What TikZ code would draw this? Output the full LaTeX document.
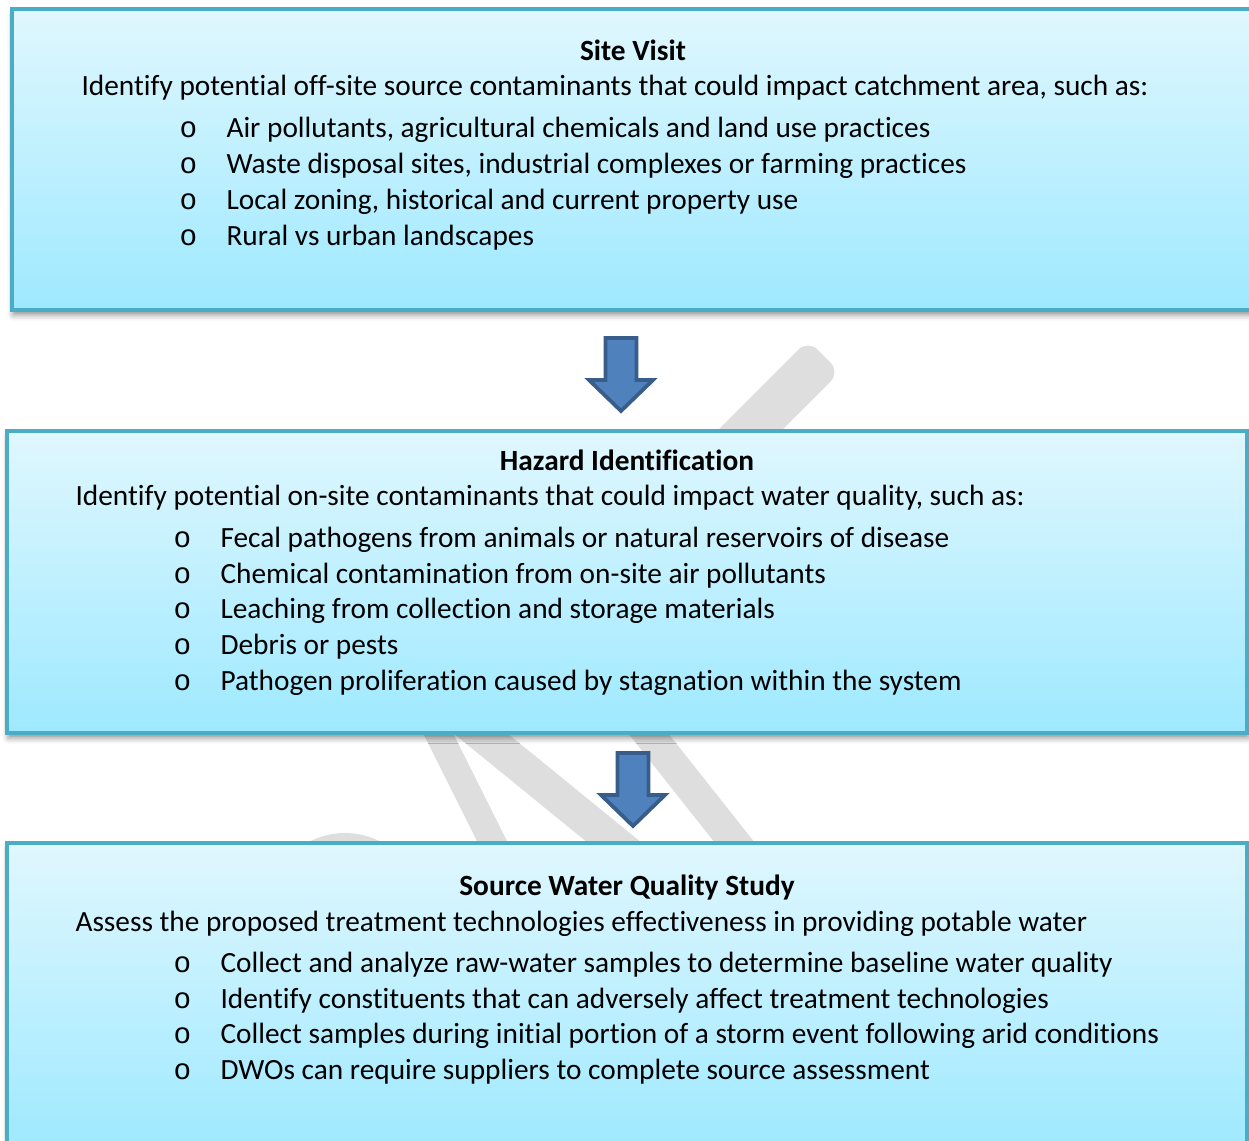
\documentclass[tikz,border=0pt]{standalone}
\usepackage{fontspec}
\setmainfont[Ligatures={TeX,NoCommon}]{Carlito}
\newfontfamily\bulletfont{Liberation Mono}
\usetikzlibrary{shadows.blur}

\definecolor{swqBoxLine}{RGB}{75,172,198}
\definecolor{swqBoxTop}{RGB}{224,247,254}
\definecolor{swqBoxBottom}{RGB}{158,233,255}
\definecolor{swqArrowFill}{RGB}{79,129,189}
\definecolor{swqArrowLine}{RGB}{56,93,138}
\definecolor{swqMark}{RGB}{222,222,222}

\tikzset{
  stagebox/.style={draw=swqBoxLine, line width=1.2pt, top color=swqBoxTop, bottom color=swqBoxBottom,
    inner sep=0pt, blur shadow={shadow xshift=0.5pt, shadow yshift=-1.8pt, shadow blur radius=2.2pt, shadow opacity=45}},
  headtext/.style={anchor=base, inner sep=0pt, font=\fontsize{11}{13}\selectfont\bfseries},
  bodytext/.style={anchor=base west, inner sep=0pt, font=\fontsize{11}{13}\selectfont},
  bullettext/.style={anchor=base west, inner sep=0pt, font=\fontsize{11}{13}\selectfont\bulletfont},
  markband/.style={fill=swqMark, draw=none},
  downarrow/.pic={
    \draw[draw=swqArrowLine, fill=swqArrowFill, line width=1.4pt, line join=miter]
      (-15.5,0) -- (15.5,0) -- (15.5,42) -- (32,42) -- (0,73) -- (-32,42) -- (-15.5,42) -- cycle;
  }
}

\begin{document}
\begin{tikzpicture}[x=0.375pt, y=-0.375pt]
  \useasboundingbox (0,0) rectangle (1249,1141);

  % grey marks showing between the boxes
  \fill[markband, rounded corners=5pt] (808,340) -- (840,372) -- (540,672) -- (508,640) -- cycle;
  \fill[markband] (406.5,700) -- (436.5,700) -- (526.5,880) -- (496.5,880) -- cycle;
  \fill[markband] (412.5,700) -- (466.5,700) -- (687.4,880) -- (633.4,880) -- cycle;
  \fill[markband] (601.9,700) -- (641.9,700) -- (784.3,880) -- (744.3,880) -- cycle;
  \fill[markband] (345,910) circle[radius=77];

  % boxes
  \node[stagebox, minimum width=468.75pt, minimum height=112.875pt] (siteBox) at (637,159.5) {};
  \node[stagebox, minimum width=465pt, minimum height=113.25pt] (hazardBox) at (627,582) {};
  \node[stagebox, minimum width=465pt, minimum height=115.125pt] (studyBox) at (627,996.5) {};

  % arrows
  \coordinate (siteOut) at (621,338);
  \coordinate (hazardOut) at (633,753);
  \pic at (siteOut) {downarrow};
  \pic at (hazardOut) {downarrow};

  % site visit
  \node[headtext] (siteHead) at (633,60) {Site Visit};
  \node[bodytext] (siteLead) at (81,95) {Identify potential off-site source contaminants that could impact catchment area, such as:};
  \node[bullettext] (siteBulA) at (179,137) {o};
  \node[bodytext] (siteItemA) at (226,137) {Air pollutants, agricultural chemicals and land use practices};
  \node[bullettext] (siteBulB) at (179,173) {o};
  \node[bodytext] (siteItemB) at (226,173) {Waste disposal sites, industrial complexes or farming practices};
  \node[bullettext] (siteBulC) at (179,209) {o};
  \node[bodytext] (siteItemC) at (226,209) {Local zoning, historical and current property use};
  \node[bullettext] (siteBulD) at (179,245) {o};
  \node[bodytext] (siteItemD) at (226,245) {Rural vs urban landscapes};

  % hazard identification
  \node[headtext] (hazardHead) at (627,470) {Hazard Identification};
  \node[bodytext] (hazardLead) at (75,505) {Identify potential on-site contaminants that could impact water quality, such as:};
  \node[bullettext] (hazardBulA) at (173,547) {o};
  \node[bodytext] (hazardItemA) at (220,547) {Fecal pathogens from animals or natural reservoirs of disease};
  \node[bullettext] (hazardBulB) at (173,583) {o};
  \node[bodytext] (hazardItemB) at (220,583) {Chemical contamination from on-site air pollutants};
  \node[bullettext] (hazardBulC) at (173,618) {o};
  \node[bodytext] (hazardItemC) at (220,618) {Leaching from collection and storage materials};
  \node[bullettext] (hazardBulD) at (173,654) {o};
  \node[bodytext] (hazardItemD) at (220,654) {Debris or pests};
  \node[bullettext] (hazardBulE) at (173,690) {o};
  \node[bodytext] (hazardItemE) at (220,690) {Pathogen proliferation caused by stagnation within the system};

  % source water quality study
  \node[headtext] (studyHead) at (627,895) {Source Water Quality Study};
  \node[bodytext] (studyLead) at (75,931) {Assess the proposed treatment technologies effectiveness in providing potable water};
  \node[bullettext] (studyBulA) at (173,972) {o};
  \node[bodytext] (studyItemA) at (220,972) {Collect and analyze raw-water samples to determine baseline water quality};
  \node[bullettext] (studyBulB) at (173,1008) {o};
  \node[bodytext] (studyItemB) at (220,1008) {Identify constituents that can adversely affect treatment technologies};
  \node[bullettext] (studyBulC) at (173,1043) {o};
  \node[bodytext] (studyItemC) at (220,1043) {Collect samples during initial portion of a storm event following arid conditions};
  \node[bullettext] (studyBulD) at (173,1079) {o};
  \node[bodytext] (studyItemD) at (220,1079) {DWOs can require suppliers to complete source assessment};
\end{tikzpicture}
\end{document}
